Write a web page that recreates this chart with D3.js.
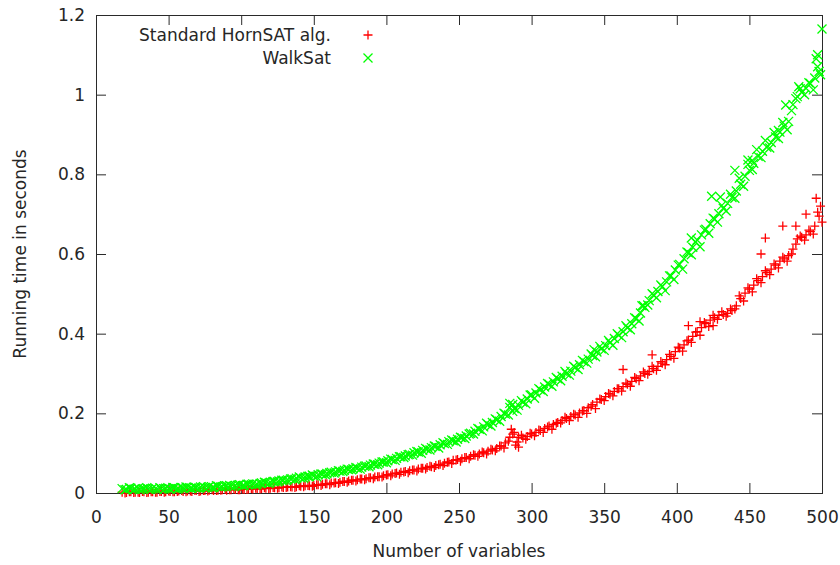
<!DOCTYPE html>
<html>
<head>
<meta charset="utf-8">
<script src="https://cdn.jsdelivr.net/npm/d3@7"></script>
<style>
  html, body { margin: 0; padding: 0; background: #fff; }
  svg text { font-family: "DejaVu Sans", sans-serif; fill: #262626; }
</style>
</head>
<body>
<svg id="chart" width="840" height="565"></svg>
<script>
// ---- data ----
// run A
const nVars = [18,21,24,27,30,33,36,39,42,45,48,51,54,57,60,63,66,69,72,75,78,81,84,87,90,93,96,99,102,105,108,111,114,117,120,123,126,129,132,135,138,141,144,147,150,153,156,159,162,165,168,171,174,177,180,183,186,189,192,195,198,201,204,207,210,213,216,219,222,225,228,231,234,237,240,243,246,249,252,255,258,261,264,267,270,273,276,279,282,285,288,291,294,297,300,303,306,309,312,315,318,321,324,327,330,333,336,339,342,345,348,351,354,357,360,363,366,369,372,375,378,381,384,387,390,393,396,399,402,405,408,411,414,417,420,423,426,429,432,435,438,441,444,447,450,453,456,459,462,465,468,471,474,477,480,483,486,489,492,495,498];

const hornTime = [
  .002,.001,.003,.002,.001,.003,.002,.003,.002,.004,
  .003,.004,.003,.005,.004,.005,.004,.006,.005,.006,
  .007,.006,.007,.008,.007,.008,.009,.008,.009,.010,
  .010,.011,.011,.012,.012,.013,.013,.014,.015,.015,
  .016,.017,.018,.018,.019,.021,.022,.023,.025,.026,
  .027,.029,.030,.032,.033,.035,.036,.038,.040,.041,
  .043,.046,.048,.050,.052,.054,.056,.058,.060,.062,
  .064,.066,.069,.072,.075,.078,.082,.084,.086,.089,
  .092,.095,.098,.101,.105,.108,.112,.118,.126,.140,
  .152,.140,.138,.142,.148,.152,.157,.162,.168,.172,
  .177,.182,.187,.192,.196,.201,.207,.214,.222,.228,
  .235,.242,.248,.255,.262,.267,.273,.280,.287,.294,
  .300,.305,.312,.318,.326,.335,.343,.355,.364,.372,
  .384,.393,.405,.415,.425,.434,.440,.446,.448,.451,
  .458,.470,.488,.502,.512,.522,.533,.543,.553,.562,
  .572,.582,.588,.596,.612,.638,.642,.648,.656,.670,
  .695];

const walkTime = [
  .011,.009,.012,.010,.008,.011,.010,.012,.009,.011,
  .012,.010,.013,.011,.012,.014,.012,.013,.015,.013,
  .016,.014,.017,.016,.018,.017,.019,.021,.019,.022,
  .023,.022,.025,.026,.027,.029,.030,.032,.033,.036,
  .037,.038,.040,.042,.043,.046,.047,.049,.052,.053,
  .055,.057,.059,.061,.062,.065,.068,.070,.072,.075,
  .078,.081,.084,.087,.091,.093,.097,.101,.103,.107,
  .110,.114,.117,.121,.124,.129,.131,.135,.139,.143,
  .150,.155,.160,.166,.172,.177,.184,.192,.198,.215,
  .212,.220,.228,.236,.246,.251,.259,.266,.273,.279,
  .287,.293,.300,.306,.315,.322,.330,.336,.345,.354,
  .362,.370,.377,.388,.396,.405,.415,.425,.438,.452,
  .466,.483,.497,.506,.518,.530,.545,.560,.574,.588,
  .603,.617,.635,.648,.662,.676,.688,.701,.715,.727,
  .742,.758,.775,.795,.810,.828,.845,.858,.868,.880,
  .894,.906,.921,.933,.975,.995,1.006,1.016,1.028,1.042,
  1.058];

// run B
const nVars2 = [20,23,26,29,32,35,38,41,44,47,50,53,56,59,62,65,68,71,74,77,80,83,86,89,92,95,98,101,104,107,110,113,116,119,122,125,128,131,134,137,140,143,146,149,152,155,158,161,164,167,170,173,176,179,182,185,188,191,194,197,200,203,206,209,212,215,218,221,224,227,230,233,236,239,242,245,248,251,254,257,260,263,266,269,272,275,278,281,284,287,290,293,296,299,302,305,308,311,314,317,320,323,326,329,332,335,338,341,344,347,350,353,356,359,362,365,368,371,374,377,380,383,386,389,392,395,398,401,404,407,410,413,416,419,422,425,428,431,434,437,440,443,446,449,452,455,458,461,464,467,470,473,476,479,482,485,488,491,494,497];

const hornTime2 = [
  .000,.003,.001,.002,.004,.001,.003,.002,.004,.002,
  .005,.003,.004,.006,.003,.005,.007,.004,.006,.005,
  .008,.006,.007,.009,.008,.010,.008,.010,.009,.011,
  .012,.010,.013,.011,.014,.012,.015,.014,.016,.014,
  .018,.016,.019,.017,.021,.019,.023,.021,.025,.024,
  .029,.027,.032,.030,.035,.033,.038,.036,.041,.040,
  .045,.043,.049,.047,.053,.051,.058,.055,.062,.060,
  .067,.064,.071,.069,.077,.074,.083,.080,.089,.086,
  .096,.092,.103,.098,.110,.106,.118,.113,.130,.148,
  .128,.145,.135,.150,.144,.158,.152,.166,.160,.175,
  .176,.190,.182,.198,.190,.206,.200,.218,.212,.236,
  .232,.250,.244,.262,.256,.276,.268,.290,.282,.304,
  .298,.318,.308,.330,.322,.348,.338,.366,.356,.382,
  .378,.404,.396,.428,.418,.446,.436,.455,.444,.462,
  .462,.495,.482,.515,.505,.538,.528,.558,.548,.575,
  .565,.592,.582,.600,.625,.645,.635,.660,.650,.705];

const walkTime2 = [
  .008,.013,.009,.012,.010,.013,.009,.011,.013,.010,
  .011,.014,.010,.013,.015,.012,.014,.012,.016,.014,
  .013,.018,.015,.017,.019,.016,.020,.018,.022,.021,
  .020,.024,.027,.024,.029,.028,.032,.031,.035,.034,
  .040,.037,.042,.045,.041,.048,.046,.051,.050,.056,
  .054,.060,.058,.064,.060,.067,.066,.073,.071,.078,
  .076,.085,.082,.091,.089,.096,.095,.104,.100,.112,
  .108,.118,.113,.126,.122,.133,.128,.140,.137,.148,
  .148,.162,.156,.175,.168,.186,.180,.200,.196,.222,
  .208,.232,.224,.246,.238,.262,.255,.275,.268,.290,
  .282,.305,.296,.318,.310,.333,.326,.349,.342,.368,
  .358,.383,.371,.400,.390,.420,.410,.440,.432,.470,
  .472,.500,.490,.522,.508,.545,.536,.572,.562,.605,
  .598,.630,.618,.660,.652,.690,.680,.722,.708,.750,
  .740,.790,.770,.825,.812,.862,.842,.885,.866,.905,
  .890,.930,.912,.960,.990,1.015,1.000,1.030,1.012,1.070];

// scattered extra runs (outliers)
const hornExtraN = [286,289,291,363,383,408,416,425,458,461,473,482,489,496,499,500];
const hornExtraT = [.160,.120,.115,.310,.347,.420,.430,.420,.600,.640,.670,.670,.700,.740,.720,.680];
const walkExtraN = [285,287,343,376,410,424,430,440,449,452,470,475,484,496,497,499,500];
const walkExtraT = [.225,.205,.360,.470,.640,.745,.743,.810,.836,.835,.910,.974,1.020,1.090,1.100,1.050,1.165];

const xTicks = [0,50,100,150,200,250,300,350,400,450,500];
const yTicks = [0,0.2,0.4,0.6,0.8,1,1.2];
const seriesNames = ["Standard HornSAT alg.", "WalkSat"];
const xTitle = "Number of variables";
const yTitle = "Running time in seconds";

// ---- layout ----
const L = 96, R = 822, T = 15, B = 493;
const svg = d3.select("#chart");
const x = d3.scaleLinear().domain([0, 500]).range([L, R]);
const y = d3.scaleLinear().domain([0, 1.2]).range([B, T]);
const axisColor = "#2a2a2a";

function styleAxis(g) {
  g.select(".domain").remove();
  g.selectAll(".tick line").attr("stroke", axisColor);
  g.selectAll("text").attr("font-size", 17).attr("fill", "#262626")
    .attr("font-family", "DejaVu Sans, sans-serif");
}

svg.append("g").attr("transform", `translate(0,${B})`)
  .call(d3.axisBottom(x).tickValues(xTicks).tickSize(-10).tickPadding(18).tickFormat(d3.format("d")))
  .call(styleAxis);
svg.append("g").attr("transform", `translate(0,${T})`)
  .call(d3.axisTop(x).tickValues(xTicks).tickSize(-10).tickFormat(""))
  .call(styleAxis);
svg.append("g").attr("transform", `translate(${L},0)`)
  .call(d3.axisLeft(y).tickValues(yTicks).tickSize(-10).tickPadding(11).tickFormat(d => String(d)))
  .call(styleAxis);
svg.append("g").attr("transform", `translate(${R},0)`)
  .call(d3.axisRight(y).tickValues(yTicks).tickSize(-10).tickFormat(""))
  .call(styleAxis);

svg.append("rect").attr("x", L + 0.5).attr("y", T + 0.5)
  .attr("width", R - L).attr("height", B - T)
  .attr("fill", "none").attr("stroke", axisColor).attr("stroke-width", 1);

// axis titles
svg.append("text").attr("x", (L + R) / 2).attr("y", 557)
  .attr("text-anchor", "middle").attr("font-size", 17).text(xTitle);
svg.append("text").attr("transform", `translate(26,${(T + B) / 2}) rotate(-90)`)
  .attr("text-anchor", "middle").attr("font-size", 17).text(yTitle);

// markers
const plusPath = s => `M${-s},0H${s}M0,${-s}V${s}`;
const crossPath = s => `M${-s},${-s}L${s},${s}M${-s},${s}L${s},${-s}`;

const pairs = (ns, ts) => ns.map((n, i) => [n, ts[i]]);
const hornPts = pairs(nVars, hornTime).concat(pairs(nVars2, hornTime2), pairs(hornExtraN, hornExtraT));
const walkPts = pairs(nVars, walkTime).concat(pairs(nVars2, walkTime2), pairs(walkExtraN, walkExtraT));

svg.append("g").selectAll("path").data(hornPts).join("path")
  .attr("transform", d => `translate(${x(d[0])},${y(d[1])})`)
  .attr("d", plusPath(4.5)).attr("stroke", "#ff0000").attr("stroke-width", 1.3).attr("fill", "none");
svg.append("g").selectAll("path").data(walkPts).join("path")
  .attr("transform", d => `translate(${x(d[0])},${y(d[1])})`)
  .attr("d", crossPath(4.5)).attr("stroke", "#00ff00").attr("stroke-width", 1.3).attr("fill", "none");

// legend
const legY = [35, 58];
seriesNames.forEach((name, i) => {
  svg.append("text").attr("x", 331).attr("y", legY[i]).attr("dy", "0.35em")
    .attr("text-anchor", "end").attr("font-size", 17).text(name);
  svg.append("path").attr("transform", `translate(368,${legY[i]})`)
    .attr("d", i === 0 ? plusPath(4.5) : crossPath(4.5))
    .attr("stroke", i === 0 ? "#ff0000" : "#00ff00").attr("stroke-width", 1.3).attr("fill", "none");
});
</script>
</body>
</html>
